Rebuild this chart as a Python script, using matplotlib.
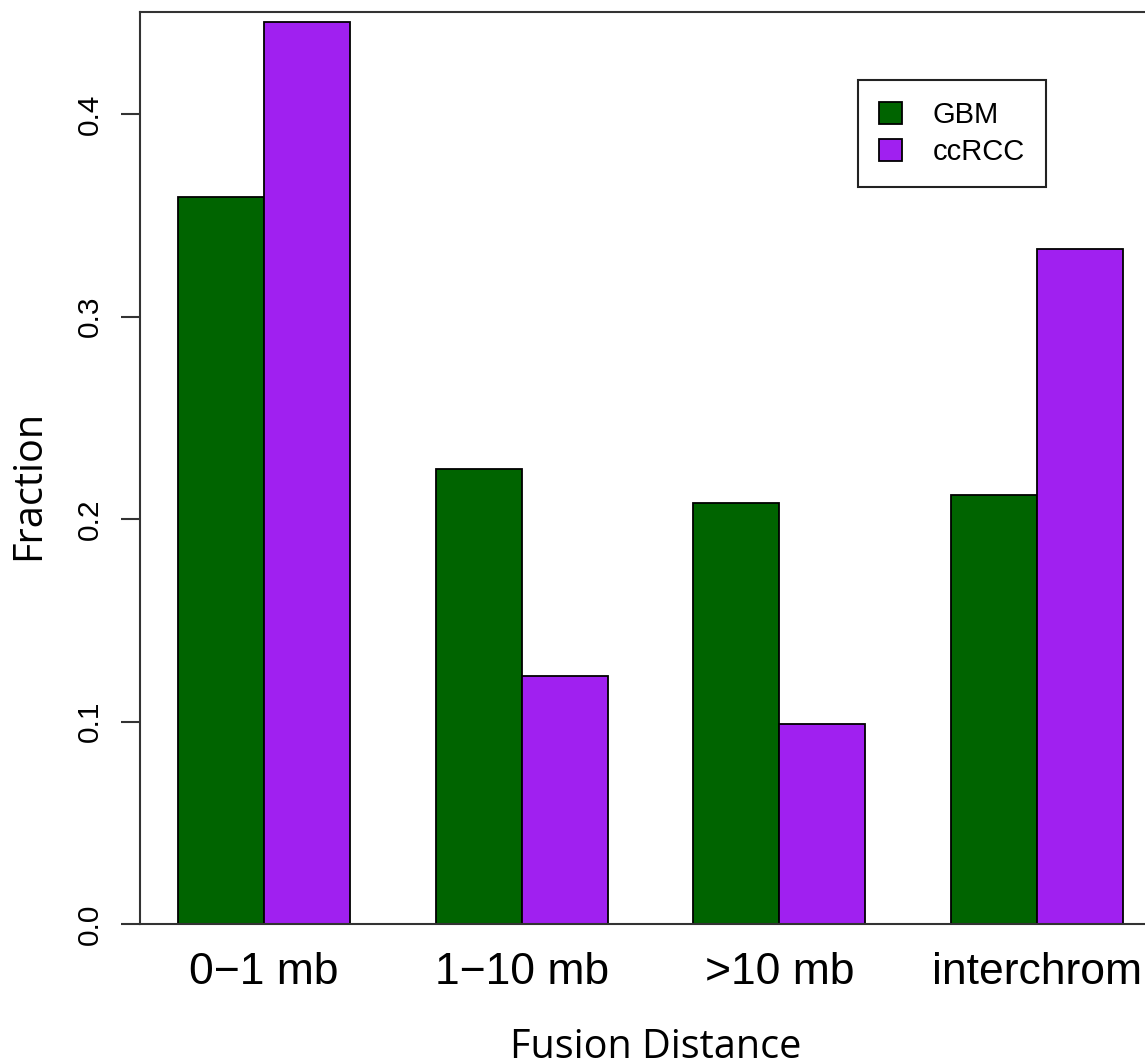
import matplotlib
matplotlib.use('Agg')
import matplotlib.pyplot as plt
import numpy as np


categories = ['0\u22121 mb', '1\u221210 mb', '>10 mb', 'interchrom']
gbm = [0.359, 0.2245, 0.2077, 0.2121]
ccrcc = [0.4455, 0.1226, 0.0989, 0.3333]
yticks = [0.0, 0.1, 0.2, 0.3, 0.4]

green = '#006400'
purple = '#A020F0'
dpi = 100

# barplot-style layout: bars of width 1, one empty unit before each group
groupStart = np.arange(len(categories)) * 3 + 1
xGbm = groupStart + 0.5
xCcrcc = groupStart + 1.5

fig = plt.figure(figsize=(11.45, 10.64), dpi=dpi)
ax = fig.add_axes([140 / 1145, 140 / 1064, 1021 / 1145, 912 / 1064])

ax.bar(xGbm, gbm, width=1.0, color=green, edgecolor='black', linewidth=1.3, label='GBM')
ax.bar(xCcrcc, ccrcc, width=1.0, color=purple, edgecolor='black', linewidth=1.3, label='ccRCC')

ax.set_xlim(0.56, 12.44)
ax.set_ylim(0, 0.4504)

for s in ax.spines.values():
    s.set_linewidth(1.5)
    s.set_color('#333333')

ax.set_xticks(groupStart + 1)
ax.set_xticklabels(categories, family='Liberation Sans', fontsize=32)
ax.tick_params(axis='x', length=0, pad=20)

ax.set_yticks(yticks)
ax.set_yticklabels([f'{v:.1f}' for v in yticks], family='Liberation Sans',
                   fontsize=21.5, rotation=90, va='center')
ax.tick_params(axis='y', length=14, width=1.5, color='#333333', pad=12)

ax.set_ylabel('Fraction', family='Open Sans', fontsize=28.5)
ax.yaxis.set_label_coords(-0.089, 0.481)
ax.set_xlabel('Fusion Distance', family='Open Sans', fontsize=28.5)
ax.xaxis.set_label_coords(0.505, -0.114)

leg = ax.legend(loc='upper left', bbox_to_anchor=((858 - 140) / 1021, (924 - 80) / 912),
                prop={'family': 'Liberation Sans', 'size': 21},
                fancybox=False, framealpha=1, edgecolor='#222222',
                handlelength=0.78, handleheight=0.78, handletextpad=1.05,
                labelspacing=0.3, borderpad=0.72, borderaxespad=0)
leg.get_frame().set_linewidth(1.5)

plt.savefig('out.png', dpi=dpi)
plt.close()
